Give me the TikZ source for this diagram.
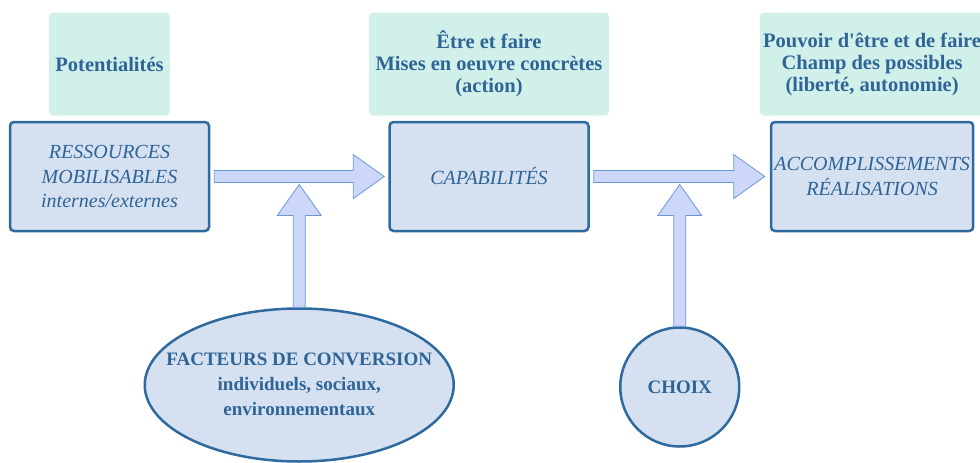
\documentclass[tikz,border=0pt]{standalone}
\usepackage{fontspec}
\setmainfont{Liberation Serif}
\usepackage{tikz}
\usetikzlibrary{positioning,calc,shapes.geometric}
\definecolor{bd}{HTML}{2E6A9E}
\definecolor{bf}{HTML}{D5E0F0}
\definecolor{mt}{HTML}{D1F0E9}
\definecolor{tx}{HTML}{2E6496}
\definecolor{af}{HTML}{CDD7FA}
\definecolor{ad}{HTML}{6A98D4}

\begin{document}
\begin{tikzpicture}[x=1pt,y=-1pt,node distance=5pt,
  bloc/.style={draw=bd,fill=bf,line width=2.5pt,rounded corners=4pt,minimum width=199pt,minimum height=109pt,align=center,text=tx,font=\fontsize{20}{24.5}\selectfont\itshape},
  haut/.style={fill=mt,rounded corners=4pt,minimum height=103pt,align=center,text=tx,font=\fontsize{20.5}{22}\selectfont\bfseries},
  rond/.style={draw=bd,fill=bf,line width=2.5pt,align=center,text=tx,font=\fontsize{19}{25}\selectfont\bfseries,inner sep=0pt},
  fl/.style={draw=ad,fill=af,line width=.8pt,
    to path={($(\tikztostart)!6pt!90:(\tikztotarget)$)
      -- ($($(\tikztotarget)!31pt!(\tikztostart)$)!6pt!90:(\tikztotarget)$)
      -- ($($(\tikztotarget)!31pt!(\tikztostart)$)!22pt!90:(\tikztotarget)$)
      -- (\tikztotarget)
      -- ($($(\tikztotarget)!31pt!(\tikztostart)$)!22pt!-90:(\tikztotarget)$)
      -- ($($(\tikztotarget)!31pt!(\tikztostart)$)!6pt!-90:(\tikztotarget)$)
      -- ($(\tikztostart)!6pt!-90:(\tikztotarget)$) -- cycle}}]
\useasboundingbox (0,0) rectangle (980,463);
\node[bloc](res) at (109.5,176.5){RESSOURCES\\MOBILISABLES\\internes/externes};
\node[bloc,right=178pt of res](cap){CAPABILITÉS};
\node[bloc,right=180pt of cap](acc){ACCOMPLISSEMENTS\\RÉALISATIONS};
\node[haut,above=5pt of res,minimum width=121pt](pot){Potentialités};
\node[haut,above=5pt of cap,minimum width=240pt](etre){Être et faire\\Mises en oeuvre concrètes\\(action)};
\node[haut,above=5pt of acc,minimum width=223pt](pouv){Pouvoir d\textquotesingle être et de faire\\Champ des possibles\\(liberté, autonomie)};
\coordinate (j1) at ($(res.east)!.5!(cap.west)+(0,8)$);
\coordinate (j2) at ($(cap.east)!.5!(acc.west)+(0,8)$);
% ellipse a taille fixe : le texte ne l'elargit pas
\node[rond,ellipse,minimum width=309pt,minimum height=153pt](fac) at (j1 |- 0,385){\makebox[0pt]{\raisebox{-4pt}{\begin{tabular}{@{}c@{}}FACTEURS DE CONVERSION\\individuels, sociaux,\\environnementaux\end{tabular}}}};
\node[rond,circle,minimum size=119pt](choix) at (j2 |- 0,387){CHOIX};
\draw[fl]($(res.east)+(4,0)$) to ($(cap.west)+(-4,0)$);
\draw[fl]($(cap.east)+(4,0)$) to ($(acc.west)+(-5,0)$);
\draw[fl](fac.north) to (j1);
\draw[fl](choix.north) to (j2);
\end{tikzpicture}
\end{document}
